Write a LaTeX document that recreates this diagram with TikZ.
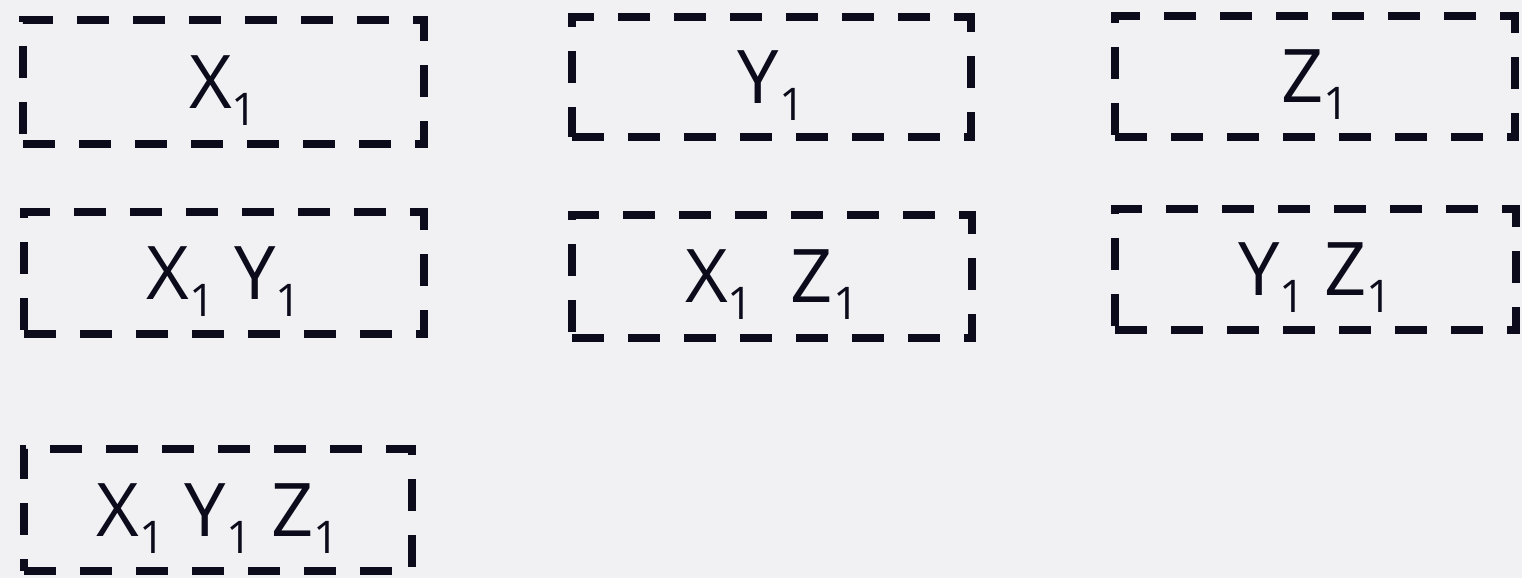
\documentclass[tikz,border=0pt]{standalone}
\usepackage{fontspec}
\setmainfont{Open Sans}
\definecolor{bg}{HTML}{F1F1F4}
\definecolor{ink}{HTML}{0C0B1C}
\newcommand{\sbone}{\raisebox{-17pt}[0pt][0pt]{\fontsize{45}{45}\selectfont 1}}
\begin{document}
\begin{tikzpicture}[x=1pt,y=-1pt,
  box/.style={draw=ink, line width=7.5pt, dash pattern=on 32pt off 24pt,
    inner sep=0pt, outer sep=0pt, text=ink, font=\fontsize{74}{74}\selectfont}]
\fill[bg] (0,0) rectangle (1522,578);
\useasboundingbox (0,0) rectangle (1522,578);
\node[box, minimum width=401pt, minimum height=124pt] (x1) at (223.5,82) {X\sbone};
\node[box, minimum width=399pt, minimum height=120pt] (y1) at (771.5,77) {Y\sbone};
\node[box, minimum width=400pt, minimum height=121pt] (z1) at (1315,76.5) {Z\sbone};
\node[box, minimum width=400pt, minimum height=122pt] (xy) at (224,273) {X\sbone{} Y\sbone};
\node[box, minimum width=400pt, minimum height=123pt] (xz) at (772,276.5) {X\sbone{}\hspace{18pt} Z\sbone};
\node[box, minimum width=401pt, minimum height=121pt] (yz) at (1315.5,269.5) {Y\sbone{} Z\sbone};
\node[box, minimum width=388pt, minimum height=122pt] (xyz) at (218,510) {X\sbone{} Y\sbone{} Z\sbone};
\end{tikzpicture}
\end{document}
